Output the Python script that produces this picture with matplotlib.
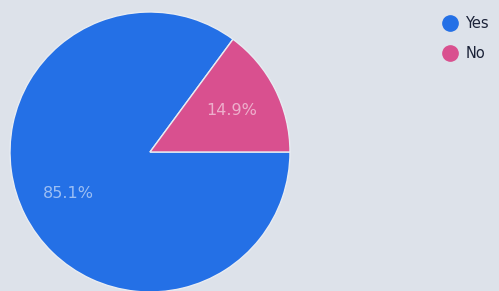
import matplotlib
matplotlib.use("Agg")
import matplotlib.pyplot as plt
from matplotlib.lines import Line2D

labels = ["Yes", "No"]
shares = [85.1, 14.9]
colors = ["#2470e6", "#d9508f"]

bg = "#dde2ea"
fig = plt.figure(figsize=(4.99, 2.91), dpi=100, facecolor=bg)
ax = fig.add_axes([0, 0, 1, 1], facecolor=bg)

# pie centre sits at about (150, 152) px with radius 140 px
r = 140.0
cx, cy = 150.0, 152.0

wedges, _, autotexts = ax.pie(shares, colors=colors, startangle=360 * shares[1] / 100,
                              autopct="%.1f%%", pctdistance=0.65,
                              wedgeprops=dict(linewidth=1, edgecolor="#e8ecf2"),
                              textprops=dict(color="white", alpha=0.55, fontsize=11.5))
ax.set_xlim(-cx / r, (499 - cx) / r)
ax.set_ylim(-(291 - cy) / r, cy / r)
ax.set_aspect("equal")
ax.axis("off")

handles = [Line2D([], [], marker="o", linestyle="", markersize=11,
                  markerfacecolor=c, markeredgecolor=c) for c in colors]
fig.legend(handles, labels, loc="upper left", bbox_to_anchor=(0.864, 0.98),
           frameon=False, fontsize=10.5, handletextpad=0.45, labelspacing=1.05,
           labelcolor="#1b2238", borderaxespad=0.3, handlelength=1.2)

fig.savefig("out.png", dpi=100, facecolor=bg)
